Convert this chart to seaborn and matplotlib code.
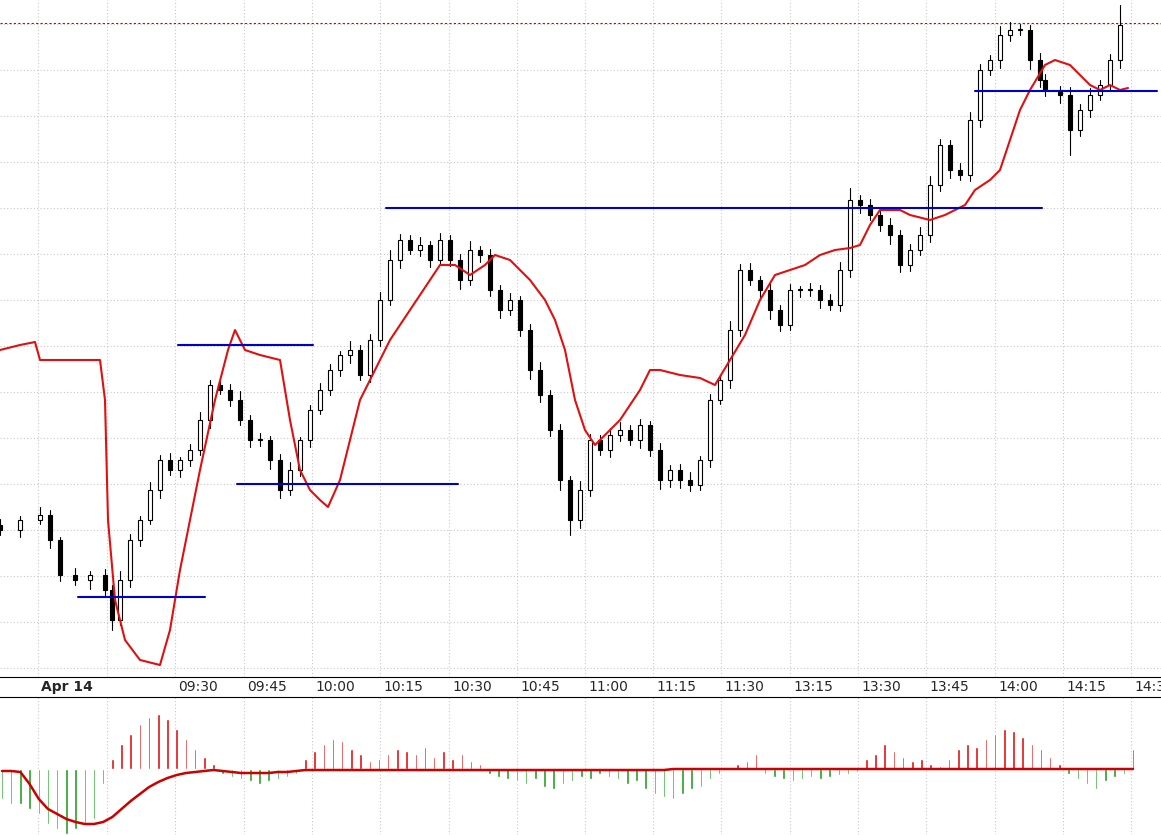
import numpy as np
import matplotlib
matplotlib.use("Agg")
import matplotlib.pyplot as plt
import seaborn as sns

# Candle positions (time axis, chart units) and closes (higher = up)
candle_x = [0,20,40,50,60,75,90,105,112,120] + list(range(130, 1041, 10)) + [1045,1060,1070,1080,1090,1100,1110,1120,1125,1130]
close_px = [530,520,515,540,575,580,575,590,620,580,540,520,490,460,470,460,450,420,385,390,
            400,420,440,440,460,490,470,440,410,390,370,355,350,375,340,300,260,240,250,245,
            260,240,260,280,250,255,290,310,300,330,370,395,430,480,520,490,440,450,435,430,
            440,425,450,480,470,480,485,460,400,380,330,270,280,290,310,325,290,290,290,300,
            305,270,200,205,215,225,235,265,250,235,185,145,170,175,120,70,60,35,30,30,
            60,80,90,95,130,110,95,85,60,25]
upper_wick = [6,4,8,5,3,7,4,6,5,9,6,4,8,5,7,3,6,8,5,4,6,9,5,7,4,6,8,3,5,7,6,4,9,5,6,8,10,6,5,8,
              4,7,5,6,9,4,6,5,7,4,6,8,5,6,4,9,6,5,7,8,5,6,4,7,5,6,8,4,6,5,9,6,7,4,8,5,6,4,7,5,
              6,8,12,5,6,4,7,5,6,8,9,6,5,7,8,6,5,9,8,6,5,7,6,4,8,6,7,5,6,20]
lower_wick = [5,7,4,8,6,5,9,6,10,5,7,6,4,8,5,7,6,5,8,4,6,5,7,6,9,8,5,6,7,4,5,6,8,5,7,6,5,8,4,6,
              7,5,6,9,5,7,6,8,5,6,9,7,6,10,15,8,6,5,7,6,5,8,6,9,7,8,6,5,7,4,8,6,5,7,9,6,5,7,6,8,
              5,6,7,8,5,6,9,7,6,5,7,6,8,5,6,7,5,8,6,5,9,7,6,8,25,6,7,5,6,8]
first_open = 525

ma_x = [0,20,35,40,100,105,108,115,125,140,160,170,180,190,200,215,228,235,245,260,280,290,300,310,320,328,
        340,350,360,375,390,400,410,420,430,440,455,470,485,495,510,520,530,545,555,565,575,585,595,605,
        620,630,640,650,660,680,700,715,730,745,760,775,790,805,820,835,850,860,870,880,890,900,910,930,
        945,955,965,975,990,1000,1010,1020,1030,1045,1055,1070,1080,1090,1100,1110,1120,1128]
ma_y = [350,345,342,360,360,400,520,600,640,660,665,630,570,520,470,400,350,330,350,355,360,420,470,490,500,507,
        480,440,400,370,340,325,310,295,280,265,265,275,265,255,260,270,280,300,320,350,400,430,445,435,
        420,405,390,370,370,375,378,385,360,335,300,275,270,265,255,250,248,245,225,210,210,210,215,220,
        215,210,205,190,180,170,140,110,90,65,60,65,75,85,90,85,90,88]

levels = [597, 345, 484, 208, 91]
level_start = [78, 178, 237, 386, 975]
level_end = [205, 313, 458, 1042, 1157]
top_level = 23

tick_pos = [38,107,175,244,312,380,449,517,585,653,721,790,858,926,995,1063,1131]
tick_labels = ["Apr 14","","09:30","09:45","10:00","10:15","10:30","10:45","11:00","11:15","11:30",
               "13:15","13:30","13:45","14:00","14:15","14:30"]

hist = [-30,-35,-35,-40,-45,-55,-60,-65,-60,-55,-50,-15,
        10,25,35,45,52,55,50,40,30,20,12,5,
        -5,-8,-10,-12,-15,-12,-10,-8,-5,
        10,18,25,30,28,20,15,8,
        10,15,20,18,15,22,12,18,10,15,8,5,
        -5,-8,-10,-12,-15,-10,-18,-20,-15,-12,-8,-10,-5,-8,-10,-15,-12,-20,-25,-28,-30,-25,-20,-18,-10,-5,
        2,5,8,15,
        -5,-8,-10,-12,-10,-8,-10,-8,-6,-5,-3,
        10,15,25,18,12,8,10,5,3,
        10,20,25,22,30,35,40,38,32,25,20,12,5,
        -5,-10,-15,-20,-12,-8,-5,20]
signal = ([-2,-2,-3,-15,-30,-40,-45,-50,-53,-55,-55,-53,
           -48,-40,-32,-25,-18,-13,-9,-6,-4,-3,-2,-1,
           -2,-3,-4,-4,-4,-4,-3,-3,-2] + [-1]*40 + [0]*51)

def Y(p):
    return 680 - np.asarray(p, dtype=float)

sns.set_style("white")
fig = plt.figure(figsize=(11.61, 8.35), dpi=100)
ax = fig.add_axes([0, 158/835, 1, 677/835])
ax2 = fig.add_axes([0, 0, 1, 138/835])

n = min(len(close_px), len(candle_x))
xs = np.array(candle_x[:n], dtype=float)
closes = Y(close_px[:n])
opens = np.concatenate([[Y(first_open)], closes[:-1]])
highs = np.maximum(opens, closes) + np.array(upper_wick[:n])
lows = np.minimum(opens, closes) - np.array(lower_wick[:n])
for x, o, c, h, l in zip(xs, opens, closes, highs, lows):
    ax.plot([x, x], [l, h], color="black", lw=0.8, zorder=3)
    up = c >= o
    ax.bar(x, max(abs(c - o), 1.5), bottom=min(o, c), width=4, color="white" if up else "black",
           edgecolor="black", linewidth=0.8, zorder=4)

sns.lineplot(x=ma_x, y=Y(ma_y), ax=ax, color="#e01010", lw=1.5, zorder=5, sort=False)
for lv, a, b in zip(levels, level_start, level_end):
    ax.plot([a, b], [Y(lv), Y(lv)], color="#0000cc", lw=1.5, zorder=6)
ax.axhline(Y(top_level), color="#cc0000", lw=0.8, ls=(0, (2, 2)), zorder=2)

ax.set_xlim(0, 1161)
ax.set_ylim(680 - 677, 680)
ax.set_yticks(Y(np.arange(24, 677, 46)))
ax.set_xticks(tick_pos)
ax.set_xticklabels([])
ax.grid(True, color="#c8c8c8", ls=(0, (1, 2)), lw=0.8)
ax.set_axisbelow(True)
for s in ["top", "right", "left"]:
    ax.spines[s].set_visible(False)
ax.spines["bottom"].set_color("black")
ax.tick_params(axis="y", length=0, labelleft=False)
ax.tick_params(axis="x", length=4, direction="out")
for p, lab in zip(tick_pos, tick_labels):
    ax.text(p + 3, -0.005, lab, transform=ax.get_xaxis_transform(), ha="left", va="top",
            fontsize=10, fontweight="bold" if lab == "Apr 14" else "normal", family="DejaVu Sans")

hx = np.linspace(2, 1133, len(hist))
colors = ["#e01010" if v > 0 else "#20a020" for v in hist]
ax2.bar(hx, hist, width=2.5, color=colors)
sns.lineplot(x=hx, y=signal, ax=ax2, color="#cc0000", lw=1.8)
ax2.set_xlim(0, 1161)
ax2.set_ylim(-66, 72)
ax2.set_xticks(tick_pos)
ax2.set_xticklabels([])
ax2.set_yticks([])
ax2.grid(True, axis="x", color="#c8c8c8", ls=(0, (1, 2)), lw=0.8)
ax2.tick_params(axis="x", length=0)
for s in ["bottom", "right", "left"]:
    ax2.spines[s].set_visible(False)
ax2.spines["top"].set_color("black")

fig.savefig("out.png", dpi=100)
